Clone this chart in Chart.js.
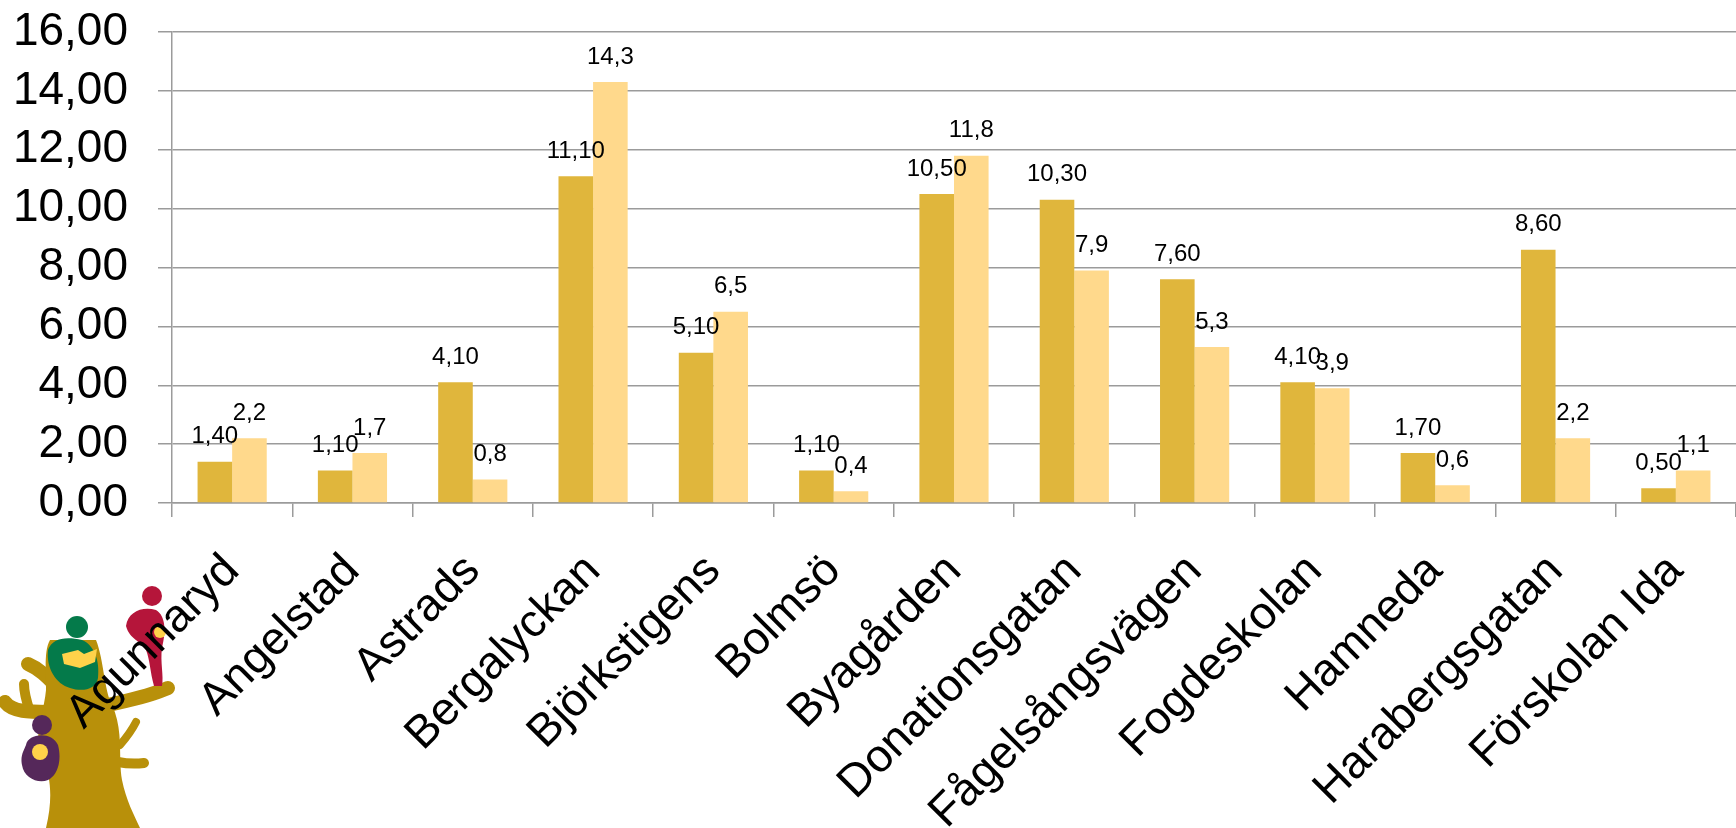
<!DOCTYPE html>
<html>
<head>
<meta charset="utf-8">
<script src="https://cdn.jsdelivr.net/npm/chart.js@4/dist/chart.umd.min.js"></script>
<style>
  html, body { margin: 0; padding: 0; background: #fff; }
  #wrap { position: relative; width: 1736px; height: 828px; overflow: hidden; }
  #logo { position: absolute; left: 0; top: 0; }
  #chart { position: absolute; left: 0; top: 0; }
</style>
</head>
<body>
<div id="wrap">
  <!-- decorative tree logo, bottom left -->
  <svg id="logo" width="1736" height="828" viewBox="0 0 1736 828">
    <g fill="none" stroke="#B8900A" stroke-linecap="round">
      <path d="M48 712 C30 712 12 712 5 702" stroke-width="14"/>
      <path d="M30 712 C26 700 24 690 24 684" stroke-width="10"/>
      <path d="M60 690 C50 680 42 670 28 664" stroke-width="14"/>
      <path d="M108 705 C130 700 150 696 168 688" stroke-width="14"/>
      <path d="M118 762 C128 764 136 764 144 763" stroke-width="10"/>
      <path d="M120 745 C126 738 132 730 136 722" stroke-width="8"/>
    </g>
    <path fill="#B8900A" d="M46 828 C54 795 50 770 40 755 C34 735 44 712 46 690 C46 670 44 650 50 640 L96 640 C104 660 104 690 112 705 C124 730 118 760 122 780 C126 800 134 815 140 828 Z"/>
    <!-- green kid -->
    <circle cx="77" cy="627" r="11" fill="#047A4A"/>
    <path fill="#047A4A" d="M48 650 C52 638 66 636 82 640 C94 645 100 660 98 678 C96 690 82 692 70 688 C56 684 46 668 48 650 Z"/>
    <path fill="#FFD24A" d="M62 654 L78 650 L84 654 L97 649 L95 662 L80 668 L64 664 Z"/>
    <!-- red kid -->
    <circle cx="152" cy="596" r="10" fill="#B5153A"/>
    <path fill="#B5153A" d="M126 626 C128 612 142 606 156 610 C166 616 166 632 162 648 C160 662 164 676 162 686 L154 686 C150 672 150 660 146 650 C140 640 130 640 126 626 Z"/>
    <circle cx="160" cy="632" r="6" fill="#FFD24A"/>
    <!-- purple kid -->
    <circle cx="42" cy="725" r="10" fill="#55285A"/>
    <path fill="#55285A" d="M26 745 C28 733 52 731 58 745 C62 760 58 775 48 780 C38 784 24 778 22 765 C20 756 24 750 26 745 Z"/>
    <circle cx="40" cy="752" r="8" fill="#FFD24A"/>
  </svg>
  <canvas id="chart" width="1736" height="828"></canvas>
</div>
<script>
// categories and series
const categories = [
    'Agunnaryd', 'Angelstad', 'Astrads', 'Bergalyckan', 'Björkstigens',
    'Bolmsö', 'Byagården', 'Donationsgatan', 'Fågelsångsvägen', 'Fogdeskolan',
    'Hamneda', 'Harabergsgatan', 'Förskolan Ida'
];
const seriesA = [1.40, 1.10, 4.10, 11.10, 5.10, 1.10, 10.50, 10.30, 7.60, 4.10, 1.70, 8.60, 0.50];
const seriesB = [2.2, 1.7, 0.8, 14.3, 6.5, 0.4, 11.8, 7.9, 5.3, 3.9, 0.6, 2.2, 1.1];
const yTicks = [0, 2, 4, 6, 8, 10, 12, 14, 16];

const FONT = "'Liberation Sans', Arial, sans-serif";
const GRID = '#9b9b9b';

function comma(v, d) {
    return v.toFixed(d).replace('.', ',');
}

/**
 * Value labels above every bar
 */
const valueLabels = {
    id: 'valueLabels',
    afterDatasetsDraw(chart) {
        const ctx = chart.ctx;
        ctx.save();
        ctx.font = `24px ${FONT}`;
        ctx.fillStyle = '#000';
        ctx.textAlign = 'center';
        ctx.textBaseline = 'middle';
        chart.data.datasets.forEach((ds, i) => {
            const meta = chart.getDatasetMeta(i);
            meta.data.forEach((bar, j) => {
                ctx.fillText(comma(ds.data[j], ds.decimals), bar.x, bar.y - 25);
            });
        });
        ctx.restore();
    }
};

new Chart(document.getElementById('chart'), {
    type: 'bar',
    data: {
        labels: categories,
        datasets: [
            {
                label: 'A',
                data: seriesA,
                decimals: 2,
                backgroundColor: '#E0B63C',
                categoryPercentage: 0.575,
                barPercentage: 1.0,
            },
            {
                label: 'B',
                data: seriesB,
                decimals: 1,
                backgroundColor: '#FFD98C',
                categoryPercentage: 0.575,
                barPercentage: 1.0,
            },
        ],
    },
    options: {
        responsive: false,
        animation: false,
        layout: { padding: { top: 32, right: 0, bottom: 0, left: 0 } },
        plugins: {
            legend: { display: false },
            tooltip: { enabled: false },
        },
        scales: {
            x: {
                afterFit: (scale) => {
                    scale.height = 325;
                    scale.paddingLeft = 0;
                    scale.paddingRight = 0;
                },
                grid: {
                    drawOnChartArea: false,
                    drawTicks: true,
                    tickLength: 14,
                    color: GRID,
                    lineWidth: 1.5,
                },
                border: { color: GRID, width: 1.5 },
                ticks: {
                    autoSkip: false,
                    minRotation: 45,
                    maxRotation: 45,
                    padding: 27,
                    color: '#000',
                    font: { family: FONT, size: 46 },
                },
            },
            y: {
                min: 0,
                max: 16,
                afterFit: (scale) => {
                    scale.width = 172;
                    scale.paddingTop = 0;
                    scale.paddingBottom = 0;
                },
                afterBuildTicks: (scale) => { scale.ticks = yTicks.map(v => ({ value: v })); },
                grid: {
                    tickLength: 14,
                    color: GRID,
                    lineWidth: 1.5,
                },
                border: { color: GRID, width: 1.5 },
                ticks: {
                    autoSkip: false,
                    padding: 30,
                    color: '#000',
                    font: { family: FONT, size: 46 },
                    callback: (v) => comma(v, 2),
                },
            },
        },
    },
    plugins: [valueLabels],
});
</script>
</body>
</html>
